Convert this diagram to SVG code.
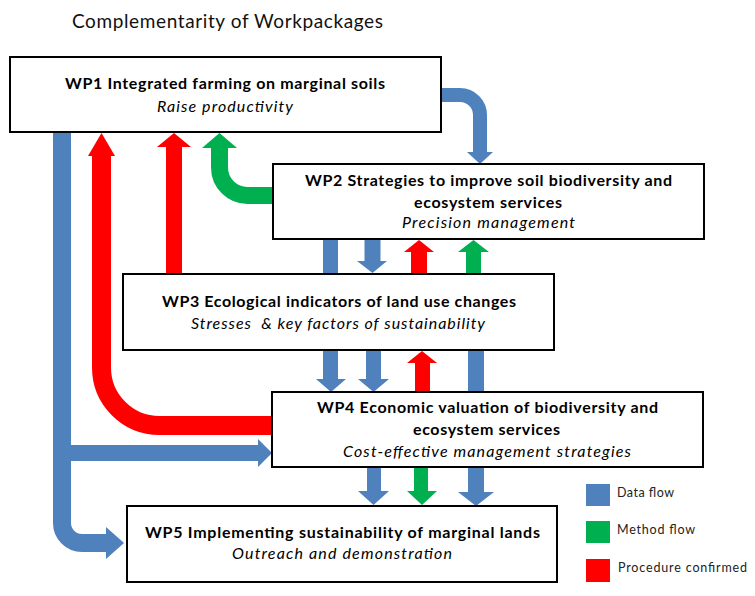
<svg xmlns="http://www.w3.org/2000/svg" width="755" height="596" viewBox="0 0 755 596">
  <style>
    .box { fill: #ffffff; stroke: #000000; stroke-width: 2; }
    .t { font-family: Lato, "Open Sans", "Liberation Sans", sans-serif; font-size: 16px; fill: #000000; text-anchor: middle; }
    .b { font-weight: bold; }
    .i { font-style: italic; }
    .title { font-family: Lato, "Open Sans", "Liberation Sans", sans-serif; font-size: 19px; fill: #111111; }
    .leg { font-family: Lato, "Open Sans", "Liberation Sans", sans-serif; font-size: 12.5px; fill: #222222; }
    .data { stroke: #4F81BD; fill: none; }
    .meth { stroke: #00B050; fill: none; }
    .proc { stroke: #FF0000; fill: none; }
    .hdata { fill: #4F81BD; }
    .hmeth { fill: #00B050; }
    .hproc { fill: #FF0000; }
  </style>

  <rect width="755" height="596" fill="#ffffff"/>

  <text class="title" x="72" y="28" textLength="311">Complementarity of Workpackages</text>

  <!-- flow arrows: shafts as thick strokes, heads as triangles -->
  <g id="connectors">
    <!-- WP1 -> WP2 -->
    <path class="data" stroke-width="14" d="M441,95 H460 A20,20 0 0 1 480,115 V153"/>
    <polygon class="hdata" points="467,152 493,152 480,164"/>

    <!-- WP1 trunk -> WP4 and WP5 -->
    <path class="data" stroke-width="18" d="M62,132 V523 A20,20 0 0 0 82,543 H107"/>
    <polygon class="hdata" points="106,527 106,559 124,543"/>
    <path class="data" stroke-width="16" d="M62,453 H259"/>
    <polygon class="hdata" points="258,439 258,467 272,453"/>

    <!-- WP4 -> WP1 (procedure) -->
    <path class="proc" stroke-width="19" d="M101.5,155 V367.5 A58,58 0 0 0 159.5,425.5 H272"/>
    <polygon class="hproc" points="88,156 115,156 101.5,133"/>

    <!-- WP3 -> WP1 (procedure) -->
    <path class="proc" stroke-width="16" d="M174,274 V146"/>
    <polygon class="hproc" points="157,147 191,147 174,133"/>

    <!-- WP2 -> WP1 (method) -->
    <path class="meth" stroke-width="17" d="M273,195.5 H247.5 A28,28 0 0 1 219.5,167.5 V147"/>
    <polygon class="hmeth" points="202,148 237,148 219.5,133"/>

    <!-- WP2 -> WP4 (passes behind WP3) -->
    <path class="data" stroke-width="15" d="M330.5,239 V380"/>
    <polygon class="hdata" points="316,379 346,379 331,392"/>

    <!-- WP2 -> WP3 -->
    <path class="data" stroke-width="16" d="M372.5,239 V262"/>
    <polygon class="hdata" points="357,261 387,261 372.5,273"/>

    <!-- WP3 -> WP2 -->
    <path class="proc" stroke-width="16" d="M419,274 V251"/>
    <polygon class="hproc" points="404,252 434,252 419,240"/>
    <path class="meth" stroke-width="15" d="M473.5,274 V251"/>
    <polygon class="hmeth" points="458,252 489,252 473.5,240"/>

    <!-- WP3 -> WP4 -->
    <path class="data" stroke-width="15" d="M373.5,350 V380"/>
    <polygon class="hdata" points="358,379 389,379 373.5,392"/>

    <!-- WP4 -> WP3 -->
    <path class="proc" stroke-width="15" d="M422.5,392 V362"/>
    <polygon class="hproc" points="407,363 437,363 422,351"/>

    <!-- WP3 -> WP5 (passes behind WP4) -->
    <path class="data" stroke-width="16" d="M476,350 V493"/>
    <polygon class="hdata" points="458,492 494,492 476,506"/>

    <!-- WP4 -> WP5 -->
    <path class="data" stroke-width="14" d="M374,467 V492"/>
    <polygon class="hdata" points="358,491 389,491 373.5,505"/>
    <path class="meth" stroke-width="14" d="M421,467 V492"/>
    <polygon class="hmeth" points="407,491 437,491 422,505"/>
  </g>

  <g id="wp1">
    <rect class="box" x="10" y="57" width="431" height="75"/>
    <text class="t b" x="225" y="89" textLength="320">WP1 Integrated farming on marginal soils</text>
    <text class="t i" x="225" y="112" textLength="136">Raise productivity</text>
  </g>

  <g id="wp2">
    <rect class="box" x="273" y="164" width="431" height="75"/>
    <text class="t b" x="488.5" y="186" textLength="367">WP2 Strategies to improve soil biodiversity and</text>
    <text class="t b" x="488" y="208" textLength="148">ecosystem services</text>
    <text class="t i" x="488.5" y="228" textLength="173">Precision management</text>
  </g>

  <g id="wp3">
    <rect class="box" x="123" y="274" width="431" height="76"/>
    <text class="t b" x="339" y="307" textLength="354">WP3 Ecological indicators of land use changes</text>
    <text class="t i" x="338" y="329" textLength="294">Stresses&#160; &amp; key factors of sustainability</text>
  </g>

  <g id="wp4">
    <rect class="box" x="272" y="392" width="431" height="75"/>
    <text class="t b" x="487.5" y="413" textLength="341">WP4 Economic valuation of biodiversity and</text>
    <text class="t b" x="486.5" y="435" textLength="147">ecosystem services</text>
    <text class="t i" x="487" y="457" textLength="288">Cost-effective management strategies</text>
  </g>

  <g id="wp5">
    <rect class="box" x="127" y="506" width="430" height="76"/>
    <text class="t b" x="342.5" y="538" textLength="395">WP5 Implementing sustainability of marginal lands</text>
    <text class="t i" x="342" y="559" textLength="220">Outreach and demonstration</text>
  </g>

  <g id="legend">
    <rect class="hdata" x="586" y="484" width="24" height="22"/>
    <text class="leg" x="617" y="497" textLength="57">Data flow</text>
    <rect class="hmeth" x="586" y="521" width="24" height="22"/>
    <text class="leg" x="617" y="534" textLength="78">Method flow</text>
    <rect class="hproc" x="586" y="559" width="24" height="23"/>
    <text class="leg" x="618" y="572" textLength="129">Procedure confirmed</text>
  </g>
</svg>
